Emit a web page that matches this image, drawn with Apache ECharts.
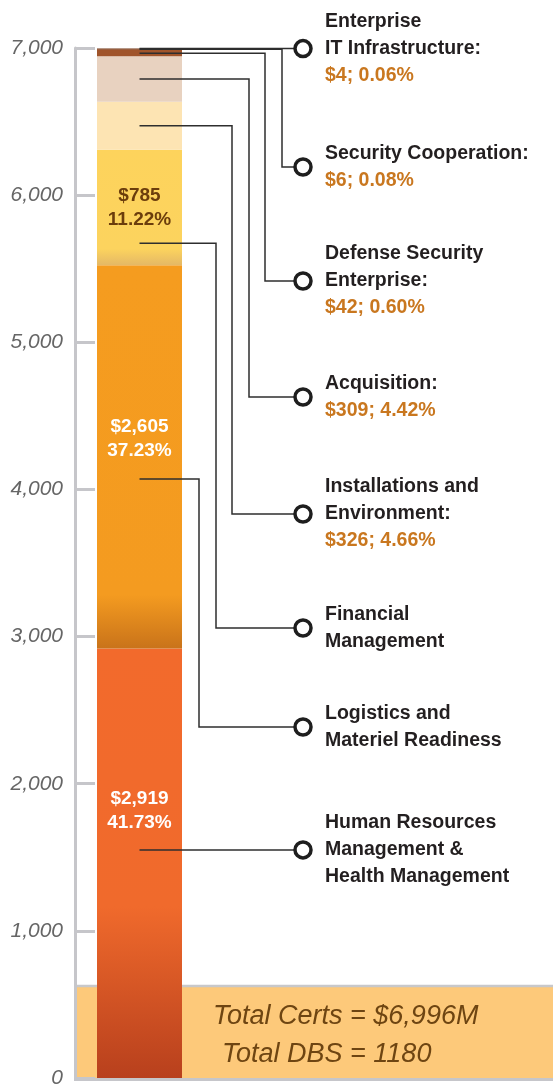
<!DOCTYPE html>
<html>
<head>
<meta charset="utf-8">
<script src="https://cdn.jsdelivr.net/npm/echarts@6/dist/echarts.min.js"></script>
<style>
html, body { margin: 0; padding: 0; background: #fff; }
#main { width: 553px; height: 1092px; }
</style>
</head>
<body>
<div id="main"></div>
<script>
// bottom to top of the stack
const categories = [
	'Human Resources\nManagement &\nHealth Management',
	'Logistics and\nMateriel Readiness',
	'Financial\nManagement',
	'Installations and\nEnvironment:',
	'Acquisition:',
	'Defense Security\nEnterprise:',
	'Security Cooperation:',
	'Enterprise\nIT Infrastructure:'
]
const values = [2919, 2605, 785, 326, 309, 42, 6, 4]
const percents = [41.73, 37.23, 11.22, 4.66, 4.42, 0.60, 0.08, 0.06]
const yTicks = [0, 1000, 2000, 3000, 4000, 5000, 6000, 7000]
const totalCerts = 6996
const totalDbs = 1180

// styling / layout
const colors = [
	['#F26A2C', '#F06A2C', '#B8401D'],
	['#F59C1F', '#F49B20', '#C9731A'],
	['#FDD35C', '#FCD35E', '#E4B866'],
	['#FDE4B3', '#FDE4B3', '#FDE4B3'],
	['#E8D2C0', '#E8D2C0', '#E8D2C0'],
	['#A0542A', '#A0542A', '#A0542A'],
	['#8A3F17', '#8A3F17', '#8A3F17'],
	['#6E300F', '#6E300F', '#6E300F']
]
const gradStop = [0.6, 0.86, 0.86, 0.5, 0.5, 0.5, 0.5, 0.5]
const onBar = [true, true, true, false, false, false, false, false]
const barLabelColor = ['#fff', '#fff', '#6B3D0C']
const barLabelOffset = [-52, -18, 0]
const anchorFrac = [0.531, 0.442, 0.19, 0.5, 0.5, 0.5, 1, 1]
const circleY = [null, 727, 628, 514, 397, 281, 167, null]
const branchX = [null, 199, 216, 232, 249, 265, 282, null]

const chart = echarts.init(document.getElementById('main'))

const series = values.map((v, i) => ({
	name: categories[i],
	type: 'bar',
	stack: 'total',
	barWidth: '100%',
	data: [v],
	itemStyle: {
		color: new echarts.graphic.LinearGradient(0, 0, 0, 1, [
			{ offset: 0, color: colors[i][0] },
			{ offset: gradStop[i], color: colors[i][1] },
			{ offset: 1, color: colors[i][2] }
		])
	},
	label: onBar[i] ? {
		show: true,
		position: 'inside',
		offset: [0, barLabelOffset[i]],
		formatter: () => '$' + v.toLocaleString('en-US') + '\n' + percents[i].toFixed(2) + '%',
		color: barLabelColor[i],
		fontFamily: 'Liberation Sans',
		fontWeight: 'bold',
		fontSize: 19,
		lineHeight: 24
	} : { show: false },
	emphasis: { disabled: true }
}))

chart.setOption({
	animation: false,
	grid: { left: 97, width: 85, top: 48, bottom: 14 },
	xAxis: {
		type: 'category',
		data: ['Total'],
		show: false
	},
	yAxis: {
		type: 'value',
		min: yTicks[0],
		max: yTicks[yTicks.length - 1],
		interval: 1000,
		offset: 22,
		axisLine: { show: true, lineStyle: { color: '#C6C6CA', width: 3 } },
		axisTick: { show: true, inside: true, length: 20, lineStyle: { color: '#C6C6CA', width: 3 } },
		splitLine: { show: false },
		axisLabel: {
			margin: 12,
			color: '#666',
			fontStyle: 'italic',
			fontFamily: 'Liberation Sans',
			fontSize: 21,
			formatter: v => v.toLocaleString('en-US')
		}
	},
	series: series
})

// leader lines, circles and side labels
const graphics = []

// totals box behind the bar
graphics.push({
	type: 'rect', z: 0,
	shape: { x: 76, y: 986, width: 477, height: 93 },
	style: { fill: '#FDC97A' }
})
graphics.push({
	type: 'line', z: 0,
	shape: { x1: 75, y1: 986, x2: 553, y2: 986 },
	style: { stroke: '#C8C8CA', lineWidth: 2.5 }
})
graphics.push({
	type: 'line', z: 0,
	shape: { x1: 74, y1: 1079.5, x2: 553, y2: 1079.5 },
	style: { stroke: '#C6C6CA', lineWidth: 3 }
})
graphics.push({
	type: 'text', z: 20,
	style: {
		text: 'Total Certs = $' + totalCerts.toLocaleString('en-US') + 'M',
		x: 213, y: 1016, textVerticalAlign: 'middle',
		font: 'italic 27px "Liberation Sans"', fill: '#6E4512'
	}
})
graphics.push({
	type: 'text', z: 20,
	style: {
		text: 'Total DBS = ' + totalDbs,
		x: 222, y: 1054, textVerticalAlign: 'middle',
		font: 'italic 27px "Liberation Sans"', fill: '#6E4512'
	}
})

let base = 0
values.forEach((v, i) => {
	const anchor = chart.convertToPixel({ gridIndex: 0 }, [0, base + v * anchorFrac[i]])
	base += v
	const x0 = anchor[0]
	const y0 = anchor[1]
	const cy = circleY[i] === null ? y0 : circleY[i]
	const cx = 303
	let pts
	if (branchX[i] === null) {
		pts = [[x0, y0], [cx - 9, y0]]
	} else {
		pts = [[x0, y0], [branchX[i], y0], [branchX[i], cy], [cx - 9, cy]]
	}
	graphics.push({
		type: 'polyline', z: 10,
		shape: { points: pts },
		style: { stroke: '#2E2E2E', lineWidth: 1.5, fill: null }
	})
	graphics.push({
		type: 'circle', z: 11,
		shape: { cx: cx, cy: cy, r: 8 },
		style: { fill: '#fff', stroke: '#1E1E1E', lineWidth: 3.5 }
	})
	const lines = categories[i].split('\n').map(t => ({ t: t, c: '#231F20' }))
	if (!onBar[i]) {
		lines.push({ t: '$' + v.toLocaleString('en-US') + '; ' + percents[i].toFixed(2) + '%', c: '#C9771F' })
	}
	const lh = 27
	const top = cy - (lines.length - 1) * lh / 2
	lines.forEach((ln, k) => {
		graphics.push({
			type: 'text', z: 12,
			style: {
				text: ln.t, x: 325, y: top + k * lh,
				textVerticalAlign: 'middle',
				font: 'bold 19.5px "Liberation Sans"', fill: ln.c
			}
		})
	})
})

chart.setOption({ graphic: graphics })
</script>
</body>
</html>
